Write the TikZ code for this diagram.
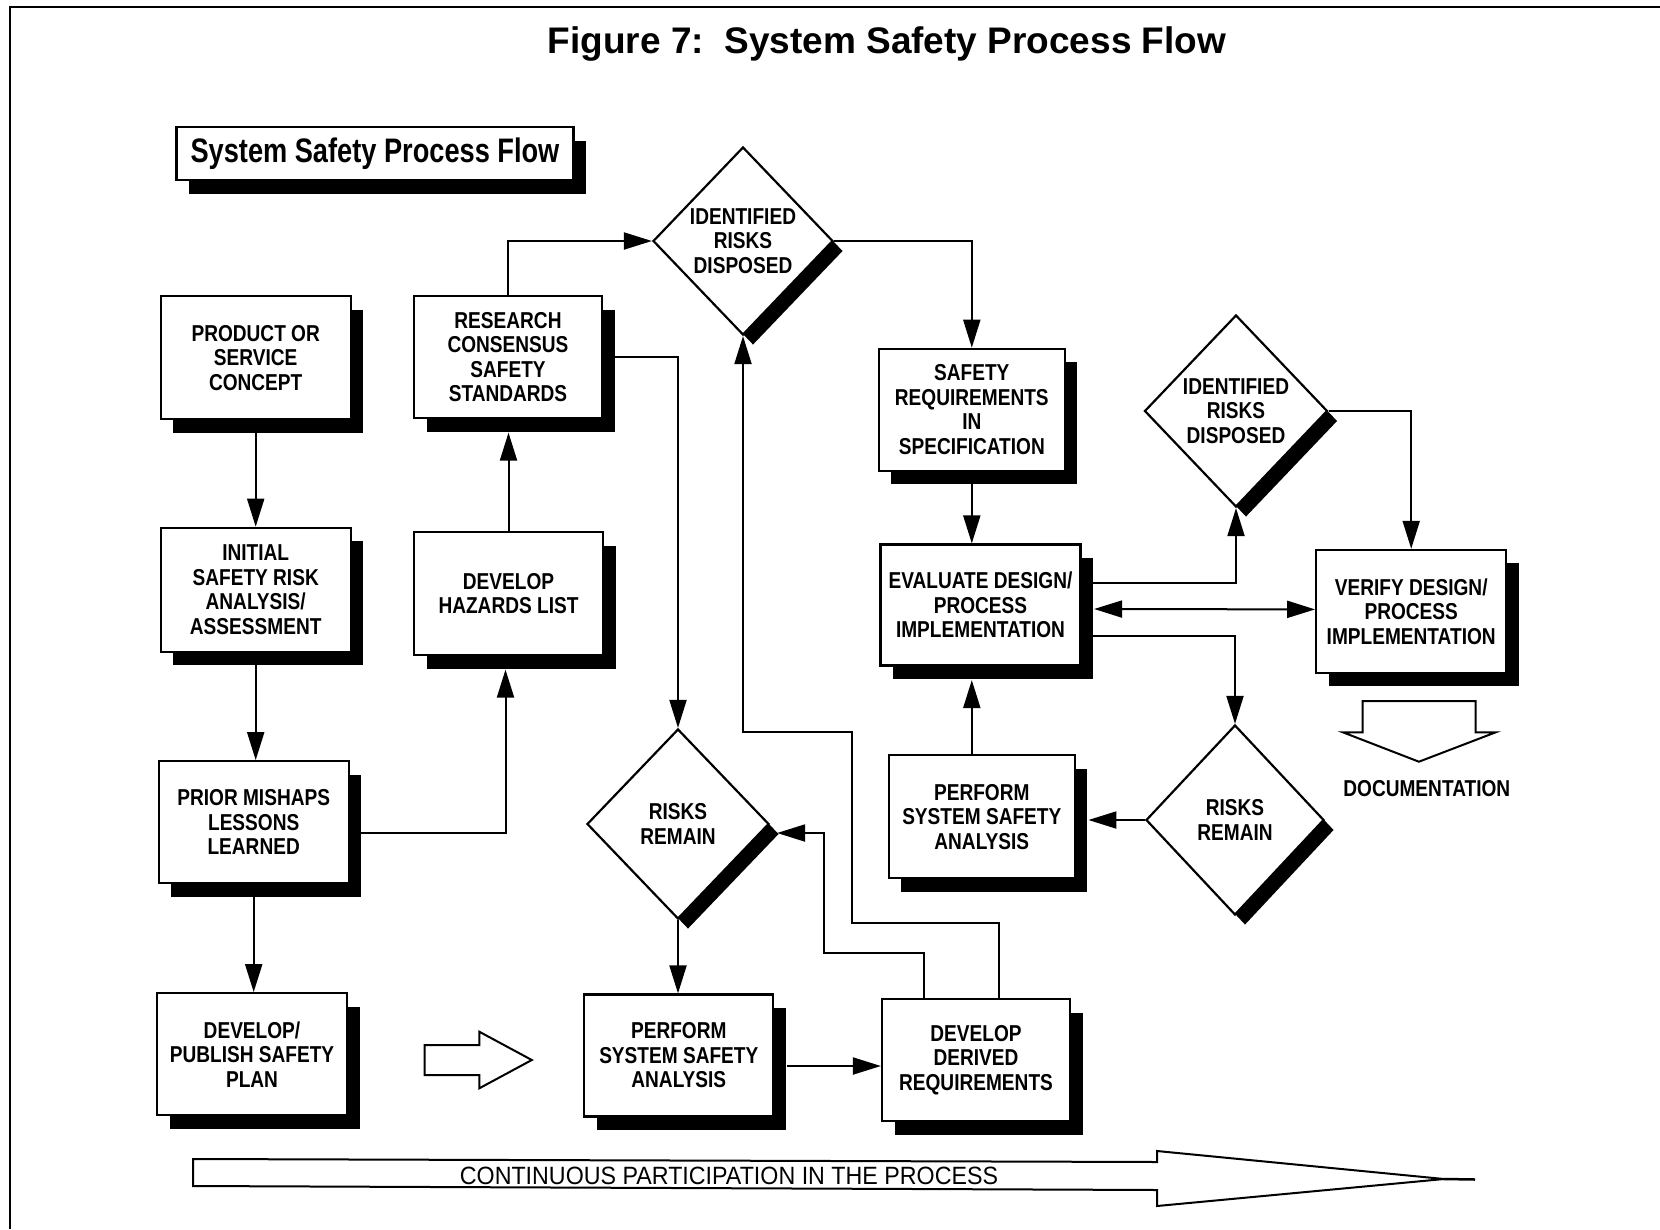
\documentclass[tikz,border=0pt]{standalone}
\usepackage{fontspec}
\setmainfont{Liberation Sans}
\newfontfamily\boxfont{Liberation Sans}[FakeStretch=0.83]
\newfontfamily\hdfont{Liberation Sans}[FakeStretch=0.8]
\newfontfamily\lowfont{Liberation Sans}[FakeStretch=0.93]
\usetikzlibrary{shapes.geometric,shadows,arrows.meta,calc}
\newcommand\boxtxt{\boxfont\bfseries\fontsize{23}{24.5}\selectfont}
\newcommand\hdtxt{\hdfont\bfseries\fontsize{34}{36}\selectfont}
\newcommand\lowtxt{\lowfont\fontsize{25}{28}\selectfont}
\tikzset{
  >={Triangle[length=28pt,width=17pt]},
  box/.style={draw, line width=2.2pt, fill=white, rectangle, inner sep=0pt, align=center, font=\boxtxt,
    drop shadow={shadow xshift=12.5pt, shadow yshift=-13.5pt, opacity=1, fill=black}},
  dia/.style={draw, line width=2.2pt, fill=white, diamond, inner sep=0pt, align=center, font=\boxtxt,
    drop shadow={shadow xshift=10pt, shadow yshift=-10pt, opacity=1, fill=black}},
  conn/.style={line width=2pt, ->},
  outline/.style={line width=2pt, fill=white},
}
\begin{document}
\begin{tikzpicture}[x=1pt,y=-1pt]
\useasboundingbox (0,0) rectangle (1660,1229);
\fill[white] (0,0) rectangle (1660,1229);
% frame
\draw[line width=2.5pt] (10,1229) -- (10,7) -- (1660,7);
% title
\node[font=\bfseries\fontsize{37}{40}\selectfont] (title) at (887,44) {Figure 7:\ \ System Safety Process Flow};
\node[box, minimum width=397pt, minimum height=53pt, font=\hdtxt, line width=2.5pt] (hdr) at (375,153.5) {System Safety Process Flow};

% boxes
\node[box, minimum width=190pt, minimum height=123pt] (product) at (255.7,357.7) {PRODUCT OR\\SERVICE\\CONCEPT};
\node[box, minimum width=190pt, minimum height=124pt] (initial) at (255.7,589.8) {INITIAL\\SAFETY RISK\\ANALYSIS/\\ASSESSMENT};
\node[box, minimum width=190pt, minimum height=122pt] (prior) at (253.7,822.2) {PRIOR MISHAPS\\LESSONS\\LEARNED};
\node[box, minimum width=190pt, minimum height=122pt] (devpub) at (252,1054.2) {DEVELOP/\\PUBLISH SAFETY\\PLAN};
\node[box, minimum width=188pt, minimum height=122pt] (research) at (508,357) {RESEARCH\\CONSENSUS\\SAFETY\\STANDARDS};
\node[box, minimum width=189pt, minimum height=123pt] (hazards) at (508.5,593.5) {DEVELOP\\HAZARDS LIST};
\node[dia, minimum width=180pt, minimum height=188pt] (d1) at (743,241) {IDENTIFIED\\RISKS\\DISPOSED};
\node[dia, minimum width=182pt, minimum height=190pt] (d3) at (678,824) {RISKS\\REMAIN};
\node[box, minimum width=189pt, minimum height=122pt] (perf1) at (678.8,1055.5) {PERFORM\\SYSTEM SAFETY\\ANALYSIS};
\node[box, minimum width=188pt, minimum height=122pt] (derived) at (976,1060) {DEVELOP\\DERIVED\\REQUIREMENTS};
\node[box, minimum width=186pt, minimum height=122pt] (safety) at (971.8,409.8) {SAFETY\\REQUIREMENTS\\IN\\SPECIFICATION};
\node[box, minimum width=200pt, minimum height=121pt] (evaluate) at (980.5,605) {EVALUATE DESIGN/\\PROCESS\\IMPLEMENTATION};
\node[box, minimum width=186pt, minimum height=123pt] (perf2) at (981.8,816.7) {PERFORM\\SYSTEM SAFETY\\ANALYSIS};
\node[dia, minimum width=183pt, minimum height=192pt] (d2) at (1236,411) {IDENTIFIED\\RISKS\\DISPOSED};
\node[dia, minimum width=178pt, minimum height=190pt] (d4) at (1235,820) {RISKS\\REMAIN};
\node[box, minimum width=190pt, minimum height=123pt] (verify) at (1411.2,611.4) {VERIFY DESIGN/\\PROCESS\\IMPLEMENTATION};
\node[font=\boxtxt] (doc) at (1426.8,788.3) {DOCUMENTATION};

% connectors
\draw[conn] (product.south) -- (product.south |- initial.north);
\draw[conn] (initial.south) -- (initial.south |- prior.north);
\draw[conn] (prior.south) -- (prior.south |- devpub.north);
\draw[conn] ($(prior.east)+(0,11)$) -| ($(hazards.south)+(-3,13.5)$);
\draw[conn] (hazards.north) -- ($(hazards.north |- research.south)+(0,13.5)$);
\draw[conn] (research.north) |- (d1.west);
\draw[conn] (research.east) -| (d3.north);
\draw[conn] (d1.east) -| (safety.north);
\draw[conn] (safety.south) -- (safety.south |- evaluate.north);
\coordinate (p2top) at ($(perf2.north)+(-10,0)$);
\draw[conn] (p2top) -- ($(p2top |- evaluate.south)+(0,13.5)$);
\draw[conn] ($(evaluate.east)+(0,-22.5)$) -| (d2.south);
\draw[line width=2pt, <->] ($(evaluate.east)+(12.5,4)$) -- ($(verify.west)+(0,-2)$);
\draw[conn] ($(evaluate.east)+(0,31)$) -| (d4.north);
\draw[conn] (d2.east) -| (verify.north);
\draw[conn] (d4.west) -- ($(perf2.east |- d4.west)+(12.5,0)$);
\draw[conn] (d3.south) -- (d3.south |- perf1.north);
\coordinate (q0) at ($(perf1.east)+(12.5,10.5)$);
\draw[conn] (q0) -- (q0 -| derived.west);
\draw[conn] ($(derived.north)+(-52.5,0)$) |- (824,953) |- ($(d3.east)+(7,9)$);
\draw[conn] ($(derived.north)+(23,0)$) |- (852,923) -- (852,732) -| (d1.south);

% hollow arrows
\draw[outline] (424.6,1045) -- (479.3,1045) -- (479.3,1031.7) -- (531.8,1060) -- (479.3,1088.3) -- (479.3,1075) -- (424.6,1075) -- cycle;
\draw[outline] (1362.5,701) -- (1475.7,701) -- (1475.7,732.3) -- (1495.7,732.3) -- (1418.9,761.7) -- (1342.9,732.3) -- (1362.5,732.3) -- cycle;
\draw[outline] (193,1159) -- (1157,1162) -- (1157,1151) -- (1444,1179) -- (1157,1206) -- (1157,1190) -- (193,1186) -- cycle;
\draw[line width=2.5pt] (1444,1179) -- (1475,1179.5);
\node[font=\lowtxt, anchor=base, inner sep=0pt] (cont) at (729,1184.5) {CONTINUOUS PARTICIPATION IN THE PROCESS};
\end{tikzpicture}
\end{document}
